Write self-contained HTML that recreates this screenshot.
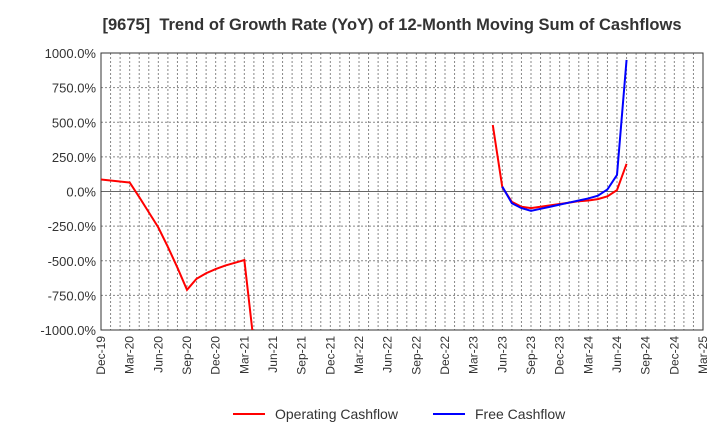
<!DOCTYPE html>
<html><head><meta charset="utf-8"><style>
body{margin:0;background:#fff;font-family:"Liberation Sans",sans-serif}
svg text{font-family:"Liberation Sans",sans-serif}
</style></head><body>
<svg id="c" width="720" height="440">
<text x="392" y="30" text-anchor="middle" font-size="16.5" font-weight="bold" fill="#333" style="white-space:pre">[9675]  Trend of Growth Rate (YoY) of 12-Month Moving Sum of Cashflows</text>
<g id="grid"></g><g id="axes"></g><g id="series"></g>
<g>
<line x1="233" y1="414" x2="265" y2="414" stroke="#f00" stroke-width="2"/>
<text x="275" y="419" font-size="14" fill="#333">Operating Cashflow</text>
<line x1="433" y1="414" x2="465" y2="414" stroke="#00f" stroke-width="2"/>
<text x="475" y="419" font-size="14" fill="#333">Free Cashflow</text>
</g>
</svg>
<script>
const xLabels=["Dec-19","Mar-20","Jun-20","Sep-20","Dec-20","Mar-21","Jun-21","Sep-21","Dec-21","Mar-22","Jun-22","Sep-22","Dec-22","Mar-23","Jun-23","Sep-23","Dec-23","Mar-24","Jun-24","Sep-24","Dec-24","Mar-25"];
const yTicks=[1000,750,500,250,0,-250,-500,-750,-1000];
// month index from Dec-19 (0)
const opEarlyMonths=[0,3,4,5,6,7,8,9,10,11,12,13,14,15,16];
const opEarlyValues=[87,65,-40,-150,-260,-400,-550,-710,-630,-590,-560,-535,-515,-495,-1100];
const opLateMonths=[41,42,43,44,45,46,47,48,49,50,51,52,53,54,55];
const opLateValues=[480,30,-75,-110,-120,-110,-100,-90,-80,-70,-65,-55,-35,10,200];
const fcfMonths=[42,43,44,45,46,47,48,49,50,51,52,53,54,55];
const fcfValues=[35,-85,-120,-140,-125,-110,-95,-80,-65,-50,-30,15,120,950];
const L=101,R=703,T=53,B=330,NM=63;
const xs=m=>L+(R-L)*m/NM;
const ys=v=>T+(B-T)*(1000-v)/2000;
const NS="http://www.w3.org/2000/svg";
function mk(t,a,p){const e=document.createElementNS(NS,t);for(const k in a)e.setAttribute(k,a[k]);p.appendChild(e);return e;}
const g=document.getElementById('grid'),ax=document.getElementById('axes'),s=document.getElementById('series');
for(let m=1;m<NM;m++){const l=mk('line',{x1:xs(m),x2:xs(m),y1:T,y2:B,stroke:'#888','stroke-dasharray':'2,2'},g);

}
yTicks.forEach(v=>{const l=mk('line',{x1:L,x2:R,y1:ys(v),y2:ys(v),stroke:v===0?'#666':'#888','stroke-dasharray':v===0?'':'2,2'},g);


const t=mk('text',{x:L-5,y:ys(v)+5,'text-anchor':'end','font-size':'13',fill:'#333'},ax);t.textContent=v.toFixed(1)+'%';

});
const fr=mk('rect',{x:L,y:T,width:R-L,height:B-T,fill:'none',stroke:'#333'},ax);


xLabels.forEach((lb,i)=>{const x=xs(i*3);const t=mk('text',{x:x+4,y:B+6,'text-anchor':'end','font-size':'12',fill:'#333',transform:`rotate(-90 ${x+4} ${B+6})`},ax);t.textContent=lb;

});
mk('clipPath',{id:'cp'},s).appendChild(document.createElementNS(NS,'rect'));
const cr=s.querySelector('clipPath rect');cr.setAttribute('x',L);cr.setAttribute('y',T);cr.setAttribute('width',R-L);cr.setAttribute('height',B-T);
function line(ms,vs,col,name){const p=mk('polyline',{points:ms.map((m,i)=>xs(m)+','+ys(vs[i])).join(' '),fill:'none',stroke:col,'stroke-width':2,'clip-path':'url(#cp)'},s);

}
line(opEarlyMonths,opEarlyValues,'#f00','operating-cashflow-line-early');
line(opLateMonths,opLateValues,'#f00','operating-cashflow-line-late');
line(fcfMonths,fcfValues,'#00f','free-cashflow-line');
</script>
</body></html>
